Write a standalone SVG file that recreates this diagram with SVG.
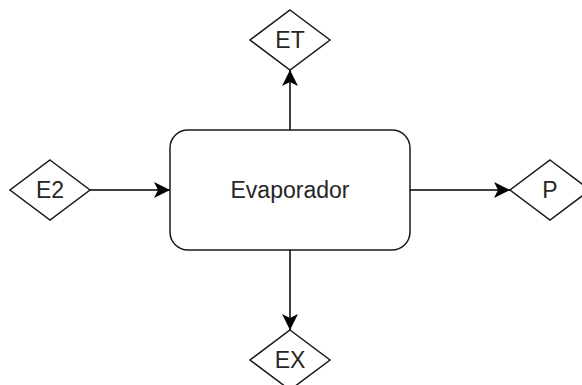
<svg xmlns="http://www.w3.org/2000/svg" width="582" height="385" viewBox="0 0 582 385">
  <style>
    .shape { fill: #ffffff; stroke: #1a1a1a; stroke-width: 1.5; }
    .label { font-family: "Liberation Sans", Arial, sans-serif; font-size: 23px; fill: #262626; text-anchor: middle; dominant-baseline: central; }
    .edge { fill: none; stroke: #000000; stroke-width: 1.5; }
  </style>
  <defs>
    <marker id="arrow" markerUnits="userSpaceOnUse" markerWidth="16" markerHeight="16" viewBox="0 0 14 14" refX="14" refY="7" orient="auto">
      <path d="M0,0 L14,7 L0,14 L3.5,7 Z" fill="#000000"/>
    </marker>
  </defs>

  <!-- connectors -->
  <g id="connectors">
    <line class="edge" x1="90" y1="190" x2="170" y2="190" marker-end="url(#arrow)"/>
    <line class="edge" x1="290" y1="130" x2="290" y2="70" marker-end="url(#arrow)"/>
    <line class="edge" x1="410" y1="190" x2="510" y2="190" marker-end="url(#arrow)"/>
    <line class="edge" x1="290" y1="250" x2="290" y2="330" marker-end="url(#arrow)"/>
  </g>

  <!-- process block -->
  <g id="evaporador">
    <rect class="shape" x="170" y="130" width="240" height="120" rx="18" ry="18"/>
    <text class="label" x="290" y="190">Evaporador</text>
  </g>

  <!-- stream nodes -->
  <g id="E2">
    <polygon class="shape" points="50,160 90,190 50,220 10,190"/>
    <text class="label" x="50" y="190">E2</text>
  </g>
  <g id="ET">
    <polygon class="shape" points="290,10 330,40 290,70 250,40"/>
    <text class="label" x="290" y="40">ET</text>
  </g>
  <g id="P">
    <polygon class="shape" points="550,160 590,190 550,220 510,190"/>
    <text class="label" x="550" y="190">P</text>
  </g>
  <g id="EX">
    <polygon class="shape" points="290,330 330,360 290,390 250,360"/>
    <text class="label" x="290" y="360">EX</text>
  </g>
</svg>
